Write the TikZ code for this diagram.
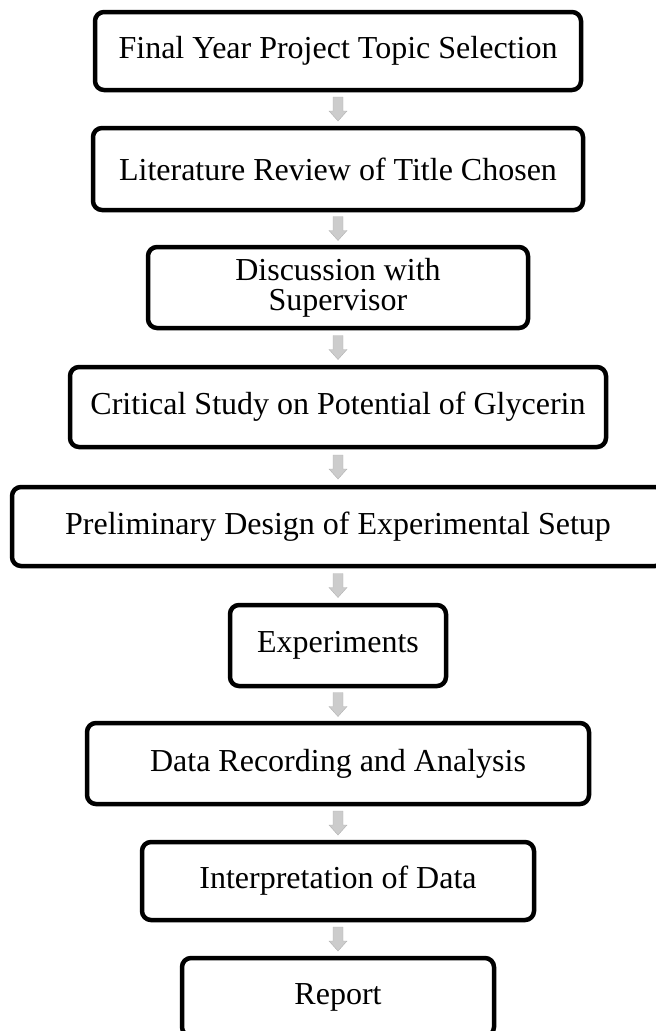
\documentclass[tikz,border=0pt]{standalone}
\usepackage{fontspec}
\setmainfont{Liberation Serif}
\tikzset{
  stepbox/.style={draw=black, line width=4.5pt, rounded corners=9pt, rectangle,
    inner sep=0pt, align=center, font=\fontsize{32}{30}\selectfont},
  flowarrow/.style={fill=gray!40, draw=gray!60, line width=0.4pt}
}
\begin{document}
\begin{tikzpicture}[x=1pt,y=-1pt]
\useasboundingbox (0,0) rectangle (656,1031);
\clip (0,0) rectangle (656,1031);
\node[stepbox, minimum width=486pt, minimum height=78pt] (b1) at (338,51) {Final Year Project Topic Selection};
\node[stepbox, minimum width=490pt, minimum height=82pt] (b2) at (338,169) {Literature Review of Title Chosen};
\node[stepbox, minimum width=380pt, minimum height=81pt] (b3) at (338,287.5) {Discussion with\\Supervisor};
\node[stepbox, minimum width=536pt, minimum height=80pt] (b4) at (338,407) {Critical Study on Potential of Glycerin};
\node[stepbox, minimum width=652pt, minimum height=79pt] (b5) at (338,526.5) {Preliminary Design of Experimental Setup};
\node[stepbox, minimum width=216pt, minimum height=81pt] (b6) at (338,645.5) {Experiments};
\node[stepbox, minimum width=502pt, minimum height=81pt] (b7) at (338,763.5) {Data Recording and Analysis};
\node[stepbox, minimum width=392pt, minimum height=78pt] (b8) at (338,881) {Interpretation of Data};
\node[stepbox, minimum width=312pt, minimum height=78pt] (b9) at (338,997) {Report};
\foreach \a/\b in {b1/b2,b2/b3,b3/b4,b4/b5,b5/b6,b6/b7,b7/b8,b8/b9}{
  \path (\a.south) -- (\b.north) coordinate[midway] (m-\a);
  \filldraw[flowarrow] ([shift={(-5,-12)}]m-\a) -- ([shift={(5,-12)}]m-\a)
    -- ([shift={(5,2)}]m-\a) -- ([shift={(9,2)}]m-\a) -- ([shift={(0,12)}]m-\a)
    -- ([shift={(-9,2)}]m-\a) -- ([shift={(-5,2)}]m-\a) -- cycle;
}
\end{tikzpicture}
\end{document}
